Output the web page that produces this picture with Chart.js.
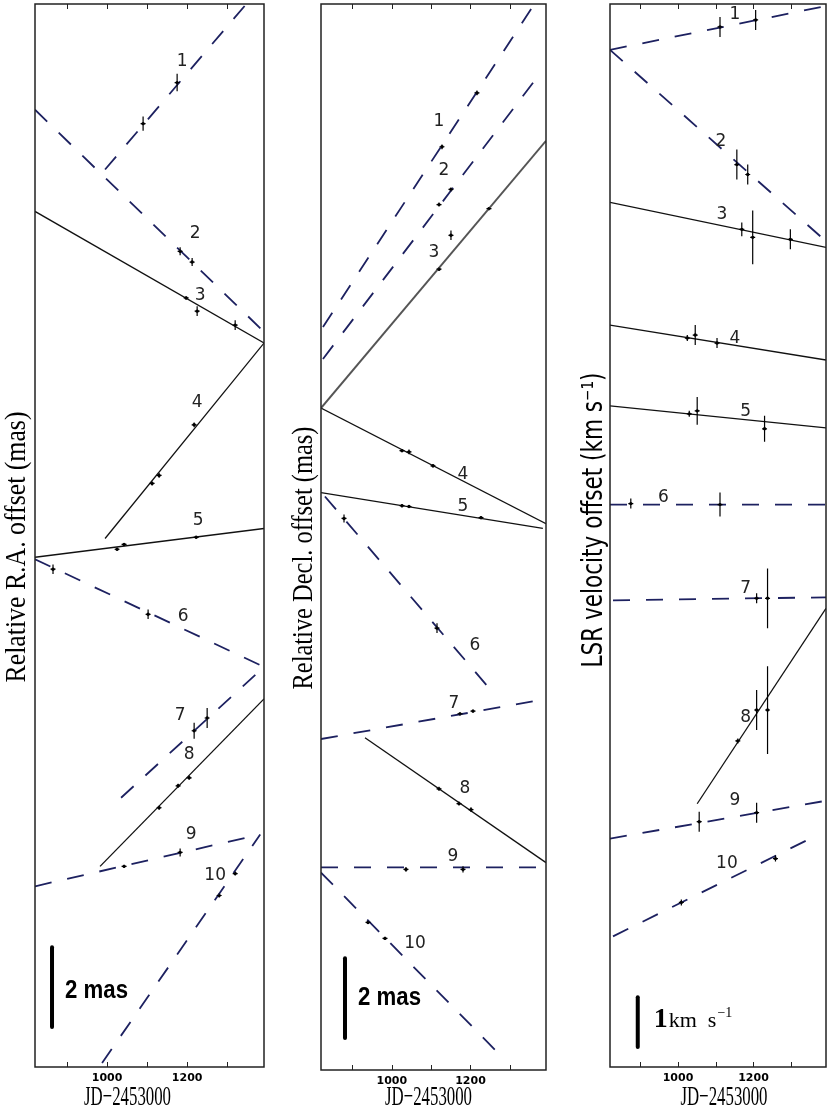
<!DOCTYPE html>
<html>
<head>
<meta charset="utf-8">
<script src="https://cdn.jsdelivr.net/npm/chart.js@4/dist/chart.umd.min.js"></script>
<style>
  body { margin: 0; background: #fff; width: 830px; height: 1107px; position: relative; overflow: hidden; }
  canvas { position: absolute; top: 0; }
</style>
</head>
<body>
<canvas id="ra" width="272" height="1107" style="left:0px"></canvas>
<canvas id="dec" width="280" height="1107" style="left:275px"></canvas>
<canvas id="vel" width="272" height="1107" style="left:558px"></canvas>
<script>
// maser features 1..10
const features = ['1', '2', '3', '4', '5', '6', '7', '8', '9', '10'];
const jdTicks = [900, 1000, 1100, 1200, 1300];
const jdLabels = [1000, 1200];

// --- R.A. offsets (mas) ---
// fitted motion per feature: [jd start, offset start, jd end, offset end]
const raFits = [
  [995, 22.5, 1392, 27.17], [820, 24.0, 1392, 18.43], [820, 21.45, 1392, 18.15],
  [995, 13.25, 1392, 18.15], [820, 12.78, 1392, 13.5], [820, 12.73, 1392, 10.03],
  [1035, 6.75, 1392, 10.03], [982.5, 5.03, 1392, 9.23], [820, 4.53, 1382.5, 5.83],
  [987.5, 0.1, 1382.5, 5.83]
];
const raJD = [
  [1090, 1175], [1182.5, 1212.5], [1197.5, 1225, 1320], [1112.5, 1130, 1217.5],
  [1025, 1042.5, 1222.5], [865, 1102.5], [1217.5, 1250], [1130, 1177.5, 1205],
  [1042.5, 1182.5], [1280, 1320]
];
const raOff = [
  [23.65, 24.68], [20.45, 20.18], [19.28, 18.95, 18.6], [14.63, 14.83, 16.1],
  [12.98, 13.1, 13.28], [12.48, 11.35], [8.43, 8.75], [6.5, 7.05, 7.25],
  [5.03, 5.38], [4.3, 4.85]
];
const raErr = [
  [0.18, 0.22], [0.1, 0.1], [0.04, 0.12, 0.12], [0.05, 0.06, 0.06],
  [0.04, 0.04, 0.03], [0.12, 0.12], [0.2, 0.25], [0.05, 0.05, 0.05],
  [0.04, 0.1], [0.05, 0.05]
];

// --- Decl. offsets (mas) ---
const decFits = [
  [825, 18.63, 1364, 26.75], [825, 17.83, 1374, 24.95], [820, 16.6, 1392, 23.3],
  [820, 16.6, 1392, 13.7], [820, 14.48, 1384, 13.58], [830, 14.38, 1249.6, 9.55],
  [820, 8.3, 1392, 9.3], [931.8, 8.33, 1392, 5.2], [820, 5.08, 1392, 5.08],
  [820, 4.95, 1275, 0.38]
];
const decJD = [
  [1127.6, 1216.5], [1120, 1150.4], [1120, 1150.4, 1247], [1025.9, 1043.7, 1104.7],
  [1025.9, 1043.7, 1226.7], [878.5, 1114.9], [1173.3, 1206.4], [1120, 1170.8, 1201.3],
  [1036, 1181], [939.5, 982.7]
];
const decOff = [
  [23.15, 24.5], [21.7, 22.08], [20.08, 20.93, 21.6], [15.53, 15.5, 15.15],
  [14.15, 14.13, 13.85], [13.83, 11.08], [8.93, 9.0], [7.05, 6.68, 6.53],
  [5.03, 5.03], [3.7, 3.3]
];
const decErr = [
  [0.06, 0.06], [0.05, 0.05], [0.04, 0.12, 0.04], [0.04, 0.06, 0.04],
  [0.04, 0.04, 0.04], [0.1, 0.12], [0.04, 0.04], [0.05, 0.05, 0.06],
  [0.06, 0.08], [0.04, 0.04]
];

// --- LSR velocity offsets (km/s) ---
const velFits = [
  [820, 20.4, 1392, 21.28], [820, 20.4, 1392, 16.56], [820, 17.34, 1392, 16.44],
  [820, 14.88, 1392, 14.18], [820, 13.26, 1392, 12.82], [820, 11.28, 1392, 11.28],
  [828, 9.36, 1392, 9.42], [1050.9, 5.28, 1392, 9.2], [820, 4.58, 1392, 5.34],
  [828, 2.62, 1350, 4.58]
];
const velJD = [
  [1111.3, 1205.7], [1155.9, 1184.7], [1169, 1197.9, 1297.6], [1024.7, 1045.7, 1103.4],
  [1029.9, 1050.9, 1229.3], [875.1, 1111.3], [1208.3, 1237.2], [1158.5, 1208.3, 1237.2],
  [1056.2, 1208.3], [1008.9, 1258.2]
];
const velOff = [
  [20.86, 21.0], [18.1, 17.9], [16.8, 16.64, 16.6], [14.62, 14.68, 14.52],
  [13.1, 13.16, 12.8], [11.3, 11.28], [9.4, 9.4], [6.54, 7.16, 7.16],
  [4.92, 5.1], [3.3, 4.18]
];
const velErr = [
  [0.2, 0.2], [0.3, 0.2], [0.14, 0.54, 0.2], [0.06, 0.2, 0.1],
  [0.06, 0.28, 0.26], [0.1, 0.24], [0.1, 0.6], [0.05, 0.4, 0.88],
  [0.2, 0.2], [0.06, 0.06]
];

// styles / annotation placement
const dashed = [true, true, false, false, false, true, true, false, true, true];
const navy = '#1d2160';
const raLabelAt = [[1187.5, 25.2], [1220, 20.9], [1232.5, 19.35], [1225, 16.65], [1227.5, 13.7],
  [1190, 11.28], [1182.5, 8.8], [1205, 7.83], [1210, 5.83], [1270, 4.8]];
const decLabelAt = [[1120, 23.78], [1132.7, 22.55], [1107.2, 20.5], [1181, 14.93], [1181, 14.13],
  [1211.5, 10.63], [1158, 9.2], [1186, 7.05], [1155.5, 5.35], [1059, 3.18]];
const velLabelAt = [[1150.6, 21.1], [1113.9, 18.56], [1116.5, 17.1], [1150.6, 14.6], [1179.5, 13.14],
  [961.7, 11.42], [1179.5, 9.6], [1179.5, 7.0], [1150.6, 5.34], [1129.6, 4.08]];

function squeezeText(ctx, text, x, y, font, len, rotate, align) {
  ctx.save();
  ctx.translate(x, y);
  if (rotate) ctx.rotate(-Math.PI / 2);
  ctx.font = font;
  const w = ctx.measureText(text).width;
  ctx.scale(len / w, 1);
  ctx.textAlign = align || 'center';
  ctx.textBaseline = 'alphabetic';
  ctx.fillStyle = '#000';
  ctx.fillText(text, 0, 0);
  ctx.restore();
}

const errorBars = {
  id: 'errorBars',
  afterDatasetsDraw(chart) {
    const ctx = chart.ctx, ys = chart.scales.y;
    chart.data.datasets.forEach((ds, di) => {
      if (!ds.errBars) return;
      const meta = chart.getDatasetMeta(di);
      ctx.save();
      ctx.strokeStyle = '#000';
      ctx.lineWidth = 1.2;
      meta.data.forEach((pt, k) => {
        const r = ds.data[k];
        const y0 = ys.getPixelForValue(r.y - r.e), y1 = ys.getPixelForValue(r.y + r.e);
        ctx.beginPath();
        ctx.moveTo(pt.x, y0); ctx.lineTo(pt.x, y1);
        ctx.moveTo(pt.x - 2.5, pt.y); ctx.lineTo(pt.x + 2.5, pt.y);
        ctx.stroke();
      });
      ctx.restore();
    });
  }
};

const decorations = {
  id: 'decorations',
  afterDraw(chart) {
    const o = chart.options.plugins.decorations;
    const ctx = chart.ctx, ca = chart.chartArea;
    const xs = chart.scales.x, ys = chart.scales.y;
    ctx.save();
    // frame and inward ticks
    ctx.strokeStyle = '#222';
    ctx.lineWidth = 1.5;
    ctx.strokeRect(ca.left, ca.top, ca.right - ca.left, ca.bottom - ca.top);
    ctx.lineWidth = 1;
    jdTicks.forEach(v => {
      const px = Math.round(xs.getPixelForValue(v)) + 0.5;
      ctx.beginPath();
      ctx.moveTo(px, ca.bottom); ctx.lineTo(px, ca.bottom - 5);
      ctx.moveTo(px, ca.top); ctx.lineTo(px, ca.top + 5);
      ctx.stroke();
    });
    // feature numbers
    ctx.fillStyle = '#222';
    ctx.font = '17px "DejaVu Sans"';
    ctx.textAlign = 'center';
    ctx.textBaseline = 'middle';
    o.labelAt.forEach((p, i) => {
      ctx.fillText(features[i], xs.getPixelForValue(p[0]), ys.getPixelForValue(p[1]));
    });
    ctx.restore();

    // scale bar caption
    const bx = xs.getPixelForValue(o.bar[0]);
    const bm = ys.getPixelForValue(o.bar[1] + o.bar[2] / 2);
    ctx.save();
    ctx.fillStyle = '#000';
    ctx.textAlign = 'left';
    ctx.textBaseline = 'alphabetic';
    if (o.barUnit === 'mas') {
      squeezeText(ctx, o.bar[2] + ' mas', bx + 13, bm + o.barDy, 'bold 26px "Liberation Sans"', 63, false, 'left');
    } else {
      ctx.font = 'bold 28px "Liberation Serif"';
      ctx.fillText(String(o.bar[2]), bx + 16, bm + o.barDy);
      ctx.font = '22px "Liberation Serif"';
      const unit = 'km  s';
      ctx.fillText(unit, bx + 31, bm + o.barDy);
      const uw = ctx.measureText(unit).width;
      ctx.font = '14px "Liberation Serif"';
      ctx.fillText('\u22121', bx + 32 + uw, bm + o.barDy - 10);
    }
    ctx.restore();

    // axis titles
    squeezeText(ctx, o.yTitle, ca.left - o.yTitleGap, o.yTitleY, o.yTitleFont, o.yTitleLen, true);
    squeezeText(ctx, 'JD\u22122453000', (ca.left + ca.right) / 2 + o.jdDx, 1105,
      '28px "Liberation Serif"', 87, false);
  }
};

function panel(id, o) {
  const datasets = o.fits.map((f, i) => ({
    data: [{ x: f[0], y: f[1] }, { x: f[2], y: f[3] }],
    showLine: true,
    borderColor: dashed[i] ? navy : (o.grayFit === i ? '#555' : '#111'),
    borderWidth: dashed[i] ? 1.8 : (o.grayFit === i ? 2 : 1.3),
    borderDash: dashed[i] ? [17, 16] : [],
    pointRadius: 0
  }));
  datasets.push({
    data: o.jd.flatMap((xs, i) => xs.map((x, j) => ({ x: x, y: o.off[i][j], e: o.err[i][j] }))),
    errBars: true,
    pointRadius: 1.7,
    backgroundColor: '#000',
    borderWidth: 0
  });
  datasets.push({
    data: [{ x: o.bar[0], y: o.bar[1] }, { x: o.bar[0], y: o.bar[1] + o.bar[2] }],
    showLine: true,
    borderColor: '#000',
    borderWidth: 4,
    borderCapStyle: 'round',
    pointRadius: 0
  });

  return new Chart(document.getElementById(id), {
    type: 'scatter',
    data: { datasets: datasets },
    plugins: [errorBars, decorations],
    options: {
      responsive: false,
      animation: false,
      devicePixelRatio: 1,
      layout: { padding: { left: o.padL, right: o.padR, top: 1, bottom: 0 } },
      plugins: {
        legend: { display: false },
        tooltip: { enabled: false },
        decorations: o
      },
      scales: {
        x: {
          type: 'linear',
          min: 820,
          max: 1392,
          afterBuildTicks: s => { s.ticks = jdTicks.map(v => ({ value: v })); },
          afterFit: s => { s.height = o.axisH; },
          grid: { display: false, drawTicks: false },
          border: { display: false },
          ticks: {
            autoSkip: false,
            maxRotation: 0,
            padding: 5,
            color: '#000',
            font: { family: 'DejaVu Sans', weight: 'bold', size: 11 },
            callback: v => jdLabels.includes(v) ? String(v) : ''
          }
        },
        y: { display: false, min: 0, max: o.yMax }
      }
    }
  });
}

panel('ra', {
  fits: raFits, jd: raJD, off: raOff, err: raErr, labelAt: raLabelAt,
  bar: [862.5, 1.0, 2], barUnit: 'mas', barDy: 11,
  padL: 35, padR: 8, axisH: 40, yMax: 26.65,
  yTitle: 'Relative R.A. offset (mas)', yTitleFont: '29px "Liberation Serif"',
  yTitleLen: 271, yTitleY: 547, yTitleGap: 10, jdDx: -22
});
panel('dec', {
  fits: decFits, jd: decJD, off: decOff, err: decErr, labelAt: decLabelAt, grayFit: 2,
  bar: [881, 0.8, 2], barUnit: 'mas', barDy: 7,
  padL: 46, padR: 9, axisH: 37, yMax: 26.73,
  yTitle: 'Relative Decl. offset (mas)', yTitleFont: '29px "Liberation Serif"',
  yTitleLen: 263, yTitleY: 558, yTitleGap: 9, jdDx: -5
});
panel('vel', {
  fits: velFits, jd: velJD, off: velOff, err: velErr, labelAt: velLabelAt,
  bar: [893.5, 0.4, 1], barUnit: 'kms', barDy: 5,
  padL: 52, padR: 2, axisH: 40, yMax: 21.32,
  yTitle: 'LSR velocity offset (km s\u207B\u00B9)', yTitleFont: '28px "DejaVu Sans"',
  yTitleLen: 295, yTitleY: 520, yTitleGap: 8, jdDx: 6
});
</script>
</body>
</html>
